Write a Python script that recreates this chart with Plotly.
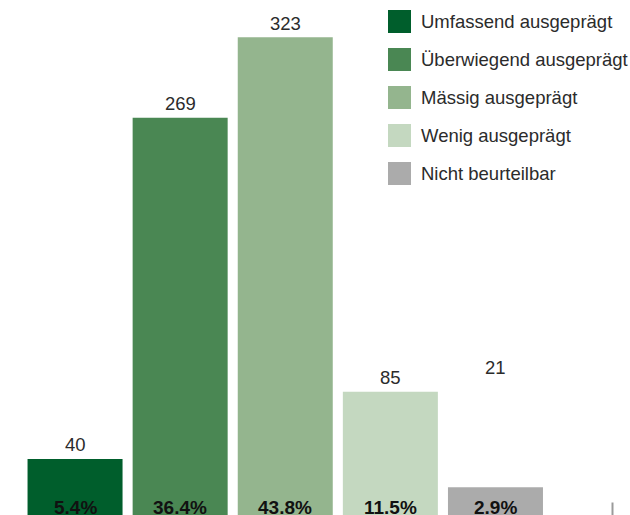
import plotly.graph_objects as go

# Assessment categories and their counts / shares
categories = [
    "Umfassend ausgeprägt",
    "Überwiegend ausgeprägt",
    "Mässig ausgeprägt",
    "Wenig ausgeprägt",
    "Nicht beurteilbar",
]
counts = [40, 269, 323, 85, 21]
shares = [5.4, 36.4, 43.8, 11.5, 2.9]
bar_colors = ["#005E2C", "#4A8753", "#94B58E", "#C4D8C0", "#ABABAB"]

W, H = 630, 515
FONT = "Liberation Sans"

fig = go.Figure()
fig.add_trace(go.Bar(
    x=categories,
    y=counts,
    marker=dict(color=bar_colors, line=dict(width=0)),
    showlegend=False,
    hoverinfo="skip",
    cliponaxis=True,
))

annotations = []
# count labels above each bar (last one sits higher)
label_shift = [14, 14, 14, 14, 120]
for cat, n, dy in zip(categories, counts, label_shift):
    annotations.append(dict(
        x=cat, y=n, xref="x", yref="y", text=str(n), showarrow=False,
        yanchor="middle", yshift=dy,
        font=dict(family=FONT, size=18.5, color="#2b2b2b"),
    ))
# percentage labels at the foot of each bar
for cat, s in zip(categories, shares):
    annotations.append(dict(
        x=cat, y=0, xref="x", yref="y domain", text=f"<b>{s:.1f}%</b>",
        showarrow=False, yanchor="middle", yshift=8,
        font=dict(family=FONT, size=19, color="#111111"),
    ))

# legend drawn as square swatches with labels
shapes = []
sq = 23
x0 = 388
for i, (cat, col) in enumerate(zip(categories, bar_colors)):
    top = 10 + 38 * i
    shapes.append(dict(
        type="rect", xref="paper", yref="paper",
        x0=x0 / W, x1=(x0 + sq) / W,
        y0=1 - (top + sq) / H, y1=1 - top / H,
        fillcolor=col, line=dict(width=0),
    ))
    annotations.append(dict(
        x=419 / W, y=1 - (top + sq / 2) / H, xref="paper", yref="paper",
        text=cat, showarrow=False, xanchor="left", yanchor="middle",
        font=dict(family=FONT, size=18.5, color="#2b2b2b"),
    ))

# small axis tick at the lower right
shapes.append(dict(
    type="line", xref="paper", yref="paper",
    x0=612.5 / W, x1=612.5 / W, y0=0, y1=(H - 502.5) / H,
    line=dict(color="#9a9a9a", width=2),
))

fig.update_layout(
    width=W, height=H, autosize=False,
    margin=dict(l=0, r=0, t=0, b=0),
    paper_bgcolor="white", plot_bgcolor="white",
    bargap=0.096,
    xaxis=dict(range=[-0.714, 5.28], visible=False, type="category"),
    yaxis=dict(range=[2.35, 348.0], visible=False),
    annotations=annotations,
    shapes=shapes,
)

fig.write_html("out.html")
